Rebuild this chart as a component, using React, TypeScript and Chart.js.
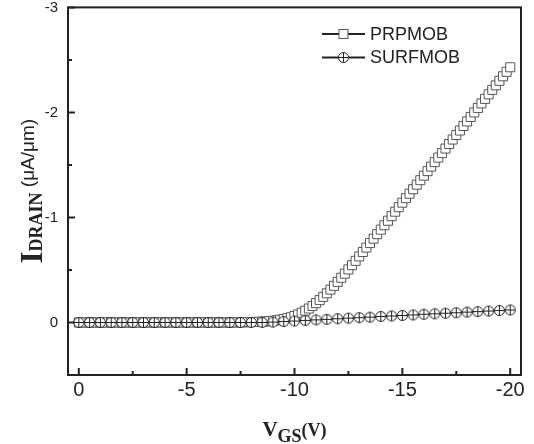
import React, { useEffect, useRef } from 'react';
import { Chart, registerables } from 'chart.js';

Chart.register(...registerables);

// ---- data ----
const prpVgs = [
  0, -0.167, -0.333, -0.5, -0.667, -0.833,
  -1, -1.167, -1.333, -1.5, -1.667, -1.833,
  -2, -2.167, -2.333, -2.5, -2.667, -2.833,
  -3, -3.167, -3.333, -3.5, -3.667, -3.833,
  -4, -4.167, -4.333, -4.5, -4.667, -4.833,
  -5, -5.167, -5.333, -5.5, -5.667, -5.833,
  -6, -6.167, -6.333, -6.5, -6.667, -6.833,
  -7, -7.167, -7.333, -7.5, -7.667, -7.833,
  -8, -8.167, -8.333, -8.5, -8.667, -8.833,
  -9, -9.167, -9.333, -9.5, -9.667, -9.833,
  -10, -10.167, -10.333, -10.5, -10.667, -10.833,
  -11, -11.167, -11.333, -11.5, -11.667, -11.833,
  -12, -12.167, -12.333, -12.5, -12.667, -12.833,
  -13, -13.167, -13.333, -13.5, -13.667, -13.833,
  -14, -14.167, -14.333, -14.5, -14.667, -14.833,
  -15, -15.167, -15.333, -15.5, -15.667, -15.833,
  -16, -16.167, -16.333, -16.5, -16.667, -16.833,
  -17, -17.167, -17.333, -17.5, -17.667, -17.833,
  -18, -18.167, -18.333, -18.5, -18.667, -18.833,
  -19, -19.167, -19.333, -19.5, -19.667, -19.833,
  -20,
];
const prpId = [
  0, 0, 0, 0, 0, 0,
  0, 0, 0, 0, 0, 0,
  0, 0, 0, 0, 0, 0,
  0, 0, 0, 0, 0, 0,
  0, 0, 0, 0, 0, 0,
  0, 0, 0, 0, 0, 0,
  0, 0, 0, 0, 0, 0,
  0, -0.001, -0.001, -0.002, -0.002, -0.003,
  -0.004, -0.005, -0.006, -0.008, -0.01, -0.013,
  -0.016, -0.021, -0.026, -0.033, -0.041, -0.05,
  -0.062, -0.076, -0.093, -0.112, -0.133, -0.157,
  -0.184, -0.213, -0.244, -0.278, -0.313, -0.349,
  -0.387, -0.426, -0.465, -0.505, -0.546, -0.587,
  -0.629, -0.671, -0.713, -0.756, -0.798, -0.841,
  -0.884, -0.926, -0.969, -1.012, -1.055, -1.098,
  -1.141, -1.184, -1.226, -1.269, -1.312, -1.355,
  -1.398, -1.441, -1.484, -1.527, -1.57, -1.613,
  -1.656, -1.699, -1.742, -1.785, -1.828, -1.871,
  -1.914, -1.957, -2.0, -2.043, -2.086, -2.129,
  -2.172, -2.215, -2.258, -2.301, -2.344, -2.387,
  -2.43,
];
const surfVgs = [
  0, -0.5, -1, -1.5, -2, -2.5, -3, -3.5, -4, -4.5,
  -5, -5.5, -6, -6.5, -7, -7.5, -8, -8.5, -9, -9.5,
  -10, -10.5, -11, -11.5, -12, -12.5, -13, -13.5, -14, -14.5,
  -15, -15.5, -16, -16.5, -17, -17.5, -18, -18.5, -19, -19.5,
  -20,
];
const surfId = [
  0, 0, 0, 0, 0, 0, 0, 0, 0, 0,
  0, 0, 0, 0, 0, 0, 0, -0.001, -0.004, -0.009,
  -0.014, -0.02, -0.025, -0.03, -0.036, -0.041, -0.046, -0.051, -0.057, -0.062,
  -0.067, -0.072, -0.078, -0.083, -0.088, -0.093, -0.099, -0.104, -0.109, -0.114,
  -0.119,
];
const seriesLabels = ['PRPMOB', 'SURFMOB'];
const xMajorTicks = [0, -5, -10, -15, -20];
const xMinorTicks = [-2.5, -7.5, -12.5, -17.5];
const yMajorTicks = [-3, -2, -1, 0];
const yMinorTicks = [-2.5, -1.5, -0.5];

const INK = '#222222';
const SQUARE_INK = '#555555';
const SANS = '"Liberation Sans", Arial, sans-serif';
const SERIF = '"Liberation Serif", "Times New Roman", serif';

function makeCirclePlus(): HTMLCanvasElement {
  const c = document.createElement('canvas');
  c.width = 13;
  c.height = 13;
  const g = c.getContext('2d')!;
  g.fillStyle = '#ffffff';
  g.beginPath();
  g.arc(6.5, 6.5, 5, 0, Math.PI * 2);
  g.fill();
  g.strokeStyle = INK;
  g.lineWidth = 1;
  g.stroke();
  g.beginPath();
  g.moveTo(1.5, 6.5);
  g.lineTo(11.5, 6.5);
  g.moveTo(6.5, 1.5);
  g.lineTo(6.5, 11.5);
  g.stroke();
  return c;
}

export default function App() {
  const canvasRef = useRef<HTMLCanvasElement | null>(null);

  useEffect(() => {
    if (!canvasRef.current) return;
    const circlePlus = makeCirclePlus();

    const decor = {
      id: 'decor',
      afterDraw(chart: any) {
        const { ctx, chartArea: a, scales } = chart;
        const xs = scales.x;
        const ys = scales.y;
        ctx.save();
        // frame
        ctx.strokeStyle = INK;
        ctx.lineWidth = 2;
        ctx.strokeRect(a.left, a.top, a.right - a.left, a.bottom - a.top);
        // inward ticks
        ctx.beginPath();
        xMajorTicks.forEach((v) => {
          const p = xs.getPixelForValue(v);
          ctx.moveTo(p, a.bottom);
          ctx.lineTo(p, a.bottom - 7);
        });
        xMinorTicks.forEach((v) => {
          const p = xs.getPixelForValue(v);
          ctx.moveTo(p, a.bottom);
          ctx.lineTo(p, a.bottom - 4);
        });
        yMajorTicks.forEach((v) => {
          const p = ys.getPixelForValue(v);
          ctx.moveTo(a.left, p);
          ctx.lineTo(a.left + 7, p);
        });
        yMinorTicks.forEach((v) => {
          const p = ys.getPixelForValue(v);
          ctx.moveTo(a.left, p);
          ctx.lineTo(a.left + 4, p);
        });
        ctx.stroke();

        ctx.fillStyle = INK;
        ctx.textAlign = 'left';
        ctx.textBaseline = 'alphabetic';

        // x title: V_GS(V)
        const xParts = [
          { t: 'V', f: `bold 21px ${SERIF}`, dy: 0 },
          { t: 'GS', f: `bold 18px ${SERIF}`, dy: 6 },
          { t: '(V)', f: `bold 18px ${SERIF}`, dy: 0 },
        ];
        let total = 0;
        xParts.forEach((p) => {
          ctx.font = p.f;
          total += ctx.measureText(p.t).width;
        });
        let cx = (a.left + a.right) / 2 - total / 2;
        xParts.forEach((p) => {
          ctx.font = p.f;
          ctx.fillText(p.t, cx, 436 + p.dy);
          cx += ctx.measureText(p.t).width;
        });

        // y title: I_DRAIN (μA/μm)
        const yParts = [
          { t: 'I', f: `bold 31px ${SERIF}`, dy: 0 },
          { t: 'DRAIN', f: `bold 18px ${SERIF}`, dy: 0 },
          { t: ' (\u03bcA/\u03bcm)', f: `19px ${SANS}`, dy: -8 },
        ];
        total = 0;
        yParts.forEach((p) => {
          ctx.font = p.f;
          total += ctx.measureText(p.t).width;
        });
        ctx.save();
        ctx.translate(41.5, (a.top + a.bottom) / 2);
        ctx.rotate(-Math.PI / 2);
        let cy = -total / 2;
        yParts.forEach((p) => {
          ctx.font = p.f;
          ctx.fillText(p.t, cy, p.dy);
          cy += ctx.measureText(p.t).width;
        });
        ctx.restore();

        // legend
        const rowsY = [34, 57.5];
        seriesLabels.forEach((label, i) => {
          const ly = rowsY[i];
          ctx.strokeStyle = INK;
          ctx.lineWidth = 2;
          ctx.beginPath();
          ctx.moveTo(322, ly);
          ctx.lineTo(365, ly);
          ctx.stroke();
          const mx = 343.5;
          if (i === 0) {
            ctx.fillStyle = '#ffffff';
            ctx.fillRect(mx - 4.5, ly - 4.5, 9, 9);
            ctx.strokeStyle = SQUARE_INK;
            ctx.lineWidth = 1;
            ctx.strokeRect(mx - 4.5, ly - 4.5, 9, 9);
          } else {
            ctx.drawImage(circlePlus, mx - 6.5, ly - 6.5);
          }
          ctx.fillStyle = INK;
          ctx.font = `18px ${SANS}`;
          ctx.textBaseline = 'middle';
          ctx.fillText(label, 370, ly + 1);
        });
        ctx.restore();
      },
    };

    const chart = new Chart(canvasRef.current, {
      type: 'line',
      data: {
        datasets: [
          {
            label: seriesLabels[1],
            data: surfVgs.map((v, i) => ({ x: v, y: surfId[i] })),
            borderColor: INK,
            borderWidth: 2,
            backgroundColor: '#ffffff',
            pointStyle: circlePlus as any,
            pointRadius: 5,
            tension: 0,
          },
          {
            label: seriesLabels[0],
            data: prpVgs.map((v, i) => ({ x: v, y: prpId[i] })),
            borderColor: INK,
            borderWidth: 1,
            backgroundColor: '#ffffff',
            pointStyle: 'rect',
            pointRadius: 6.4,
            pointBorderColor: SQUARE_INK,
            pointBorderWidth: 1,
            pointBackgroundColor: '#ffffff',
            tension: 0,
          },
        ],
      },
      options: {
        animation: false,
        responsive: true,
        maintainAspectRatio: false,
        layout: { padding: { top: 7, right: 13, left: 0, bottom: 0 } },
        plugins: {
          legend: { display: false },
          tooltip: { enabled: false },
        },
        scales: {
          x: {
            type: 'linear',
            reverse: true,
            min: -20.5,
            max: 0.5,
            border: { display: false },
            grid: { display: false, drawTicks: false },
            ticks: {
              color: INK,
              padding: 5,
              maxRotation: 0,
              autoSkip: false,
              font: { family: SANS, size: 20, lineHeight: 1 },
            },
            afterBuildTicks: (s: any) => {
              s.ticks = xMajorTicks.map((v) => ({ value: v }));
            },
            afterFit: (s: any) => {
              s.height = 69;
              s.paddingLeft = 0;
              s.paddingRight = 0;
            },
          },
          y: {
            type: 'linear',
            reverse: true,
            min: -3,
            max: 0.5,
            border: { display: false },
            grid: { display: false, drawTicks: false },
            ticks: {
              color: INK,
              padding: 10,
              autoSkip: false,
              font: { family: SANS, size: 15, lineHeight: 0.9 },
            },
            afterBuildTicks: (s: any) => {
              s.ticks = yMajorTicks.map((v) => ({ value: v }));
            },
            afterFit: (s: any) => {
              s.width = 68;
              s.paddingTop = 0;
              s.paddingBottom = 0;
            },
          },
        },
      },
      plugins: [decor],
    } as any);

    return () => chart.destroy();
  }, []);

  return (
    <div style={{ position: 'fixed', left: 0, top: 0, width: 534, height: 444, background: '#fff' }}>
      <canvas ref={canvasRef} />
    </div>
  );
}
